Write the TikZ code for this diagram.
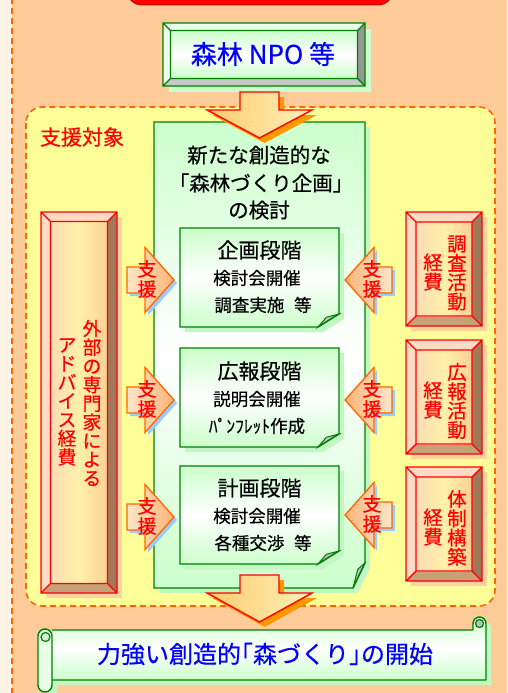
\documentclass[tikz,border=0pt]{standalone}
\usepackage{fontspec}
\setmainfont[FakeBold=0.5]{Noto Sans CJK JP}
\usetikzlibrary{calc}
\definecolor{peach}{RGB}{255,204,153}
\definecolor{cream}{RGB}{252,243,230}
\definecolor{lyellow}{RGB}{255,255,153}
\definecolor{dashor}{RGB}{255,102,0}
\definecolor{dgreen}{RGB}{0,128,0}
\definecolor{lgreen}{RGB}{204,255,204}
\definecolor{sgreen}{RGB}{196,245,196}
\definecolor{jblue}{RGB}{0,0,255}
\definecolor{jred}{RGB}{255,0,0}
\definecolor{bvpink}{RGB}{255,218,196}
\definecolor{bvbrown}{RGB}{160,120,90}
\definecolor{bvtan}{RGB}{200,160,120}
\definecolor{rshadow}{RGB}{255,210,160}
\definecolor{ashadow}{RGB}{153,204,255}
\definecolor{arrorange}{RGB}{255,153,0}
\definecolor{rinL}{RGB}{255,220,180}
\definecolor{rinM}{RGB}{255,240,170}
\definecolor{rinR}{RGB}{255,208,150}
\definecolor{foldgray}{RGB}{190,190,190}
\definecolor{gbvlight}{RGB}{236,255,236}
\definecolor{gbvdark}{RGB}{150,150,150}
\definecolor{gbvmid}{RGB}{200,200,200}
\definecolor{siendark}{RGB}{255,180,120}
\definecolor{sienlight}{RGB}{255,230,200}
\definecolor{arrL}{RGB}{255,204,110}
\definecolor{arrR}{RGB}{255,240,185}
\definecolor{rollfill}{RGB}{232,255,232}
\definecolor{curlfill}{RGB}{214,238,214}
\newcommand\jfs[2]{\fontsize{#1}{#2}\selectfont}
\newcommand\jlb{\makebox[0.5em][r]{「}}
\newcommand\jrb{\makebox[0.5em][l]{」}}
\newcommand\redbevel[5]{%
  \fill[rshadow] ({#1+5},{#2+5}) rectangle ({#3+5},{#4+5});
  \fill[bvpink] (#1,#2) rectangle (#3,#4);
  \fill[bvbrown] (#3,#2) -- (#3,#4) -- ({#3-#5},{#4-#5}) -- ({#3-#5},{#2+#5}) -- cycle;
  \fill[bvtan] (#1,#4) -- (#3,#4) -- ({#3-#5},{#4-#5}) -- ({#1+#5},{#4-#5}) -- cycle;
  \shade[left color=rinL, right color=rinR, middle color=rinM] ({#1+#5},{#2+#5}) rectangle ({#3-#5},{#4-#5});
  \draw[redline] (#1,#2) rectangle (#3,#4) ({#1+#5},{#2+#5}) rectangle ({#3-#5},{#4-#5})
     (#1,#2) -- ({#1+#5},{#2+#5}) (#3,#2) -- ({#3-#5},{#2+#5})
     (#1,#4) -- ({#1+#5},{#4-#5}) (#3,#4) -- ({#3-#5},{#4-#5});
}
\newcommand\docshape[6]{%
  \fill[sgreen] ({#1+5},{#2+5}) -- ({#3+5},{#2+5}) -- ({#3+5},{#4-#6+5}) -- ({#3-#5+5},{#4+5}) -- ({#1+5},{#4+5}) -- cycle;
  \shade[top color=lgreen, bottom color=lgreen, middle color=white] (#1,#2) -- (#3,#2) -- (#3,{#4-#6}) -- ({#3-#5},#4) -- (#1,#4) -- cycle;
  \filldraw[fill=foldgray, draw=dgreen, line width=1pt] ({#3-#5},#4) -- ({#3-0.6*#5},{#4-0.75*#6}) -- (#3,{#4-#6}) -- cycle;
  \draw[greenline] (#1,#2) -- (#3,#2) -- (#3,{#4-#6}) -- ({#3-#5},#4) -- (#1,#4) -- cycle;
}
\newcommand\bigdown[3]{%
  \fill[arrorange] (245,{#1+5}) -- (284,{#1+5}) -- (284,{#2+5}) -- (317,{#2+5}) -- (264.5,{#3+5}) -- (212,{#2+5}) -- (245,{#2+5}) -- cycle;
  \shade[left color=arrL, right color=arrR] (240,#1) -- (279,#1) -- (279,#2) -- (312,#2) -- (259.5,#3) -- (207,#2) -- (240,#2) -- cycle;
  \draw[redline] (240,#1) -- (279,#1) -- (279,#2) -- (312,#2) -- (259.5,#3) -- (207,#2) -- (240,#2) -- cycle;
}
% tip x, tip y, sign, left colour, right colour, name
\newcommand\sienarrow[6]{%
  \fill[ashadow] ({#1+3},{#2+3}) -- ({#1-29*(#3)+3},{#2-32.5+3}) -- ({#1-29*(#3)+3},{#2-13+3}) -- ({#1-47*(#3)+3},{#2-13+3}) -- ({#1-47*(#3)+3},{#2+13+3}) -- ({#1-29*(#3)+3},{#2+13+3}) -- ({#1-29*(#3)+3},{#2+32.5+3}) -- cycle;
  \shade[left color=#4, right color=#5] (#1,#2) -- ({#1-29*(#3)},{#2-32.5}) -- ({#1-29*(#3)},{#2-13}) -- ({#1-47*(#3)},{#2-13}) -- ({#1-47*(#3)},{#2+13}) -- ({#1-29*(#3)},{#2+13}) -- ({#1-29*(#3)},{#2+32.5}) -- cycle;
  \draw[draw=dashor, line width=1.3pt, line join=miter] (#1,#2) -- ({#1-29*(#3)},{#2-32.5}) -- ({#1-29*(#3)},{#2-13}) -- ({#1-47*(#3)},{#2-13}) -- ({#1-47*(#3)},{#2+13}) -- ({#1-29*(#3)},{#2+13}) -- ({#1-29*(#3)},{#2+32.5}) -- cycle;
  \node[sientxt] (#6) at ({#1-27*(#3)},{#2-1}) {支\\援};
}
\begin{document}
\begin{tikzpicture}[x=1pt,y=-1pt,
  redline/.style={draw=jred, line width=1.4pt},
  greenline/.style={draw=dgreen, line width=1.4pt},
  dashline/.style={draw=dashor, line width=1.6pt, dash pattern=on 6pt off 4pt},
  lbl/.style={inner sep=0pt, outer sep=0pt, align=center},
  blacktxt/.style={lbl, text=black},
  titletxt/.style={blacktxt, font=\jfs{20.5}{22}},
  stagetitle/.style={blacktxt, font=\jfs{21}{22}},
  stagesub/.style={blacktxt, font=\jfs{17.5}{19}},
  sientxt/.style={lbl, text=jred, font=\jfs{19}{20}},
  vleft/.style={lbl, text=jred, font=\jfs{18.8}{18.7}},
  vright/.style={lbl, text=jred, font=\jfs{19.5}{19.3}}
]
\useasboundingbox (0,0) rectangle (507,693);
\clip (0,0) rectangle (507,693);
% background
\fill[cream] (0,0) rectangle (12,693);
\fill[peach] (12,0) rectangle (507,693);
\draw[dashline] (12,-2) -- (12,695);
% top red box (cut off)
\filldraw[fill=jred, draw=red!75!black, line width=1pt, rounded corners=15] (127,-40) rectangle (393,5);
% NPO bevel box
\fill[lgreen] (169,29) rectangle (371,92);
\fill[gbvlight] (163,23) rectangle (365,86);
\fill[gbvdark] (365,23) -- (365,86) -- (357.5,78.5) -- (357.5,30.5) -- cycle;
\fill[gbvmid] (163,86) -- (365,86) -- (357.5,78.5) -- (170.5,78.5) -- cycle;
\shade[top color=lgreen, bottom color=lgreen, middle color=white] (170.5,30.5) rectangle (357.5,78.5);
\draw[greenline] (163,23) rectangle (365,86) (170.5,30.5) rectangle (357.5,78.5)
  (163,23) -- (170.5,30.5) (365,23) -- (357.5,30.5) (163,86) -- (170.5,78.5) (365,86) -- (357.5,78.5);
\node[lbl, text=jblue, font=\jfs{26}{28}] (npo) at (263,54) {森林 NPO 等};
% support region
\filldraw[fill=lyellow, dashline, rounded corners=16] (26,107) rectangle (495,606);
\node[lbl, text=jred, font=\jfs{21}{22}, anchor=west] (target) at (40,137) {支援対象};
% big document
\docshape{154}{122}{365}{588}{12}{25}
\bigdown{92}{110}{138}
\node[titletxt] (t1) at (259,155) {新たな創造的な};
\node[titletxt] (t2) at (261,183) {\jlb 森林づくり企画\jrb};
\node[titletxt] (t3) at (259,210) {の検討};
% stages
\docshape{180}{228}{339}{327}{21}{13}
\node[stagetitle] (s1t) at (259.5,250) {企画段階};
\node[stagesub] (s1a) at (257,278) {検討会開催};
\node[stagesub] (s1b) at (263,305) {調査実施\hspace{0.55em}等};
\docshape{180}{348}{339}{447}{21}{13}
\node[stagetitle] (s2t) at (259.5,371) {広報段階};
\node[stagesub] (s2a) at (257,399) {説明会開催};
\node[stagesub] (s2b) at (257,426) {ﾊﾟﾝﾌﾚｯﾄ作成};
\docshape{180}{466}{339}{564}{21}{13}
\node[stagetitle] (s3t) at (259.5,488) {計画段階};
\node[stagesub] (s3a) at (257,516) {検討会開催};
\node[stagesub] (s3b) at (263,543) {各種交渉\hspace{0.55em}等};
% left red box
\redbevel{41}{212}{117}{593}{9.5}
\node[vleft] (adv1) at (92,403) {外\\部\\の\\専\\門\\家\\に\\よ\\る};
\node[vleft] (adv2) at (67,402) {ア\\ド\\バ\\イ\\ス\\経\\費};
% right red boxes
\redbevel{406}{212}{482}{326}{10}
\node[vright] (r1a) at (457,273) {調\\査\\活\\動};
\node[vright] (r1b) at (433,272) {経\\費};
\redbevel{406}{340}{482}{454}{10}
\node[vright] (r2a) at (457,401) {広\\報\\活\\動};
\node[vright] (r2b) at (433,400) {経\\費};
\redbevel{406}{467}{482}{581}{10}
\node[vright] (r3a) at (457,528) {体\\制\\構\\築};
\node[vright] (r3b) at (433,527) {経\\費};
% support arrows
\sienarrow{174}{280}{1}{sienlight}{siendark}{aL1}
\sienarrow{174}{400}{1}{sienlight}{siendark}{aL2}
\sienarrow{174}{517}{1}{sienlight}{siendark}{aL3}
\sienarrow{345}{280}{-1}{siendark}{sienlight}{aR1}
\sienarrow{345}{400}{-1}{siendark}{sienlight}{aR2}
\sienarrow{345}{515}{-1}{siendark}{sienlight}{aR3}
% bottom arrow
\bigdown{575}{593}{622}
% scroll
\fill[sgreen] (57,635) -- (478,635) -- (478,628.5) arc[start angle=180, end angle=360, radius=6.5] -- (491,685) -- (57,685) -- cycle;
\fill[sgreen, rounded corners=7] (43,634) rectangle (57,697);
\shade[top color=lgreen, bottom color=lgreen, middle color=white] (52,630) -- (473,630) -- (473,623.5) arc[start angle=180, end angle=360, radius=6.5] -- (486,680) -- (52,680) -- cycle;
\draw[greenline, line join=round] (52,630) -- (473,630) -- (473,623.5) arc[start angle=180, end angle=360, radius=6.5] -- (486,680) -- (52,680);
\filldraw[fill=rollfill, greenline, rounded corners=7] (38,629) rectangle (52,692);
\filldraw[fill=curlfill, draw=dgreen, line width=1.2pt] (45.5,637) circle[radius=4.5];
\filldraw[fill=foldgray, draw=dgreen, line width=1.2pt] (479.5,623.5) circle[radius=4];
\node[lbl, text=jblue, font=\jfs{24}{26}] (goal) at (265,654) {力強い創造的\jlb 森づくり\jrb の開始};
\end{tikzpicture}
\end{document}
